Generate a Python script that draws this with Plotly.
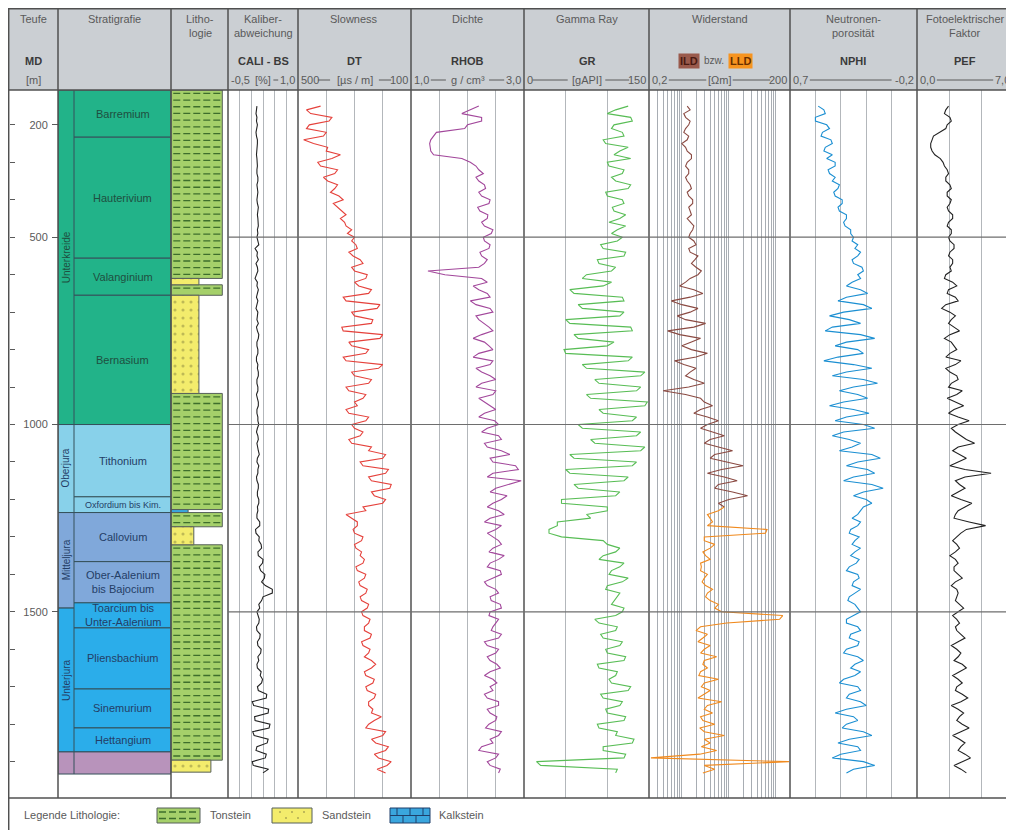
import numpy as np
import plotly.graph_objects as go

# page has an 8px body margin, so the figure fills page pixels 8..1014 x 8..830
OFF = 8
W, H = 1014 - OFF, 830 - OFF
FONT = "Arial, Liberation Sans, sans-serif"

# ---------------- data ----------------
DEPTH = list(range(150, 1931, 10))   # log sample depths [m MD], 179 samples

CALI = [0.12, 0.11, 0.10, 0.12, 0.11, 0.13, 0.12, 0.10, 0.11, 0.13, 0.13, 0.12, 0.12, 0.11, 0.12, 0.13, 0.13, 0.12, 0.12, 0.14,
        0.14, 0.12, 0.13, 0.14, 0.13, 0.12, 0.13, 0.15, 0.14, 0.13, 0.14, 0.15, 0.15, 0.13, 0.14, 0.12, 0.14, 0.16, 0.08, 0.13,
        0.12, 0.15, 0.10, 0.13, 0.14, 0.11, 0.08, 0.13, 0.12, 0.15, 0.13, 0.11, 0.14, 0.12, 0.10, 0.14, 0.13, 0.12, 0.15, 0.11,
        0.13, 0.16, 0.15, 0.12, 0.12, 0.14, 0.14, 0.11, 0.11, 0.14, 0.13, 0.15, 0.15, 0.12, 0.12, 0.14, 0.14, 0.11, 0.13, 0.15,
        0.15, 0.12, 0.12, 0.14, 0.14, 0.16, 0.13, 0.11, 0.14, 0.15, 0.12, 0.13, 0.15, 0.17, 0.13, 0.12, 0.16, 0.14, 0.14, 0.11,
        0.12, 0.15, 0.15, 0.13, 0.13, 0.16, 0.16, 0.13, 0.14, 0.12, 0.12, 0.18, 0.18, 0.09, 0.10, 0.17, 0.16, 0.21, 0.22, 0.14,
        0.15, 0.25, 0.24, 0.17, 0.20, 0.29, 0.28, 0.22, 0.30, 0.45, 0.45, 0.25, 0.22, 0.16, 0.18, 0.12, 0.14, 0.17, 0.16, 0.11,
        0.12, 0.19, 0.18, 0.13, 0.14, 0.21, 0.20, 0.14, 0.16, 0.12, 0.13, 0.21, 0.19, 0.24, 0.22, 0.13, 0.15, 0.33, 0.32, 0.02,
        0.05, 0.37, 0.36, 0.07, 0.08, 0.40, 0.38, 0.03, 0.06, 0.36, 0.34, 0.12, 0.10, 0.32, 0.30, 0.02, 0.04, 0.37, 0.25]

DT = [420, 470, 455, 380, 390, 460, 470, 400, 410, 480, 445, 395, 400, 350, 380, 430, 420, 360, 370, 410,
      395, 360, 370, 385, 355, 340, 375, 360, 345, 330, 350, 335, 330, 310, 325, 300, 310, 295, 290, 320,
      305, 280, 270, 310, 300, 255, 260, 300, 285, 240, 250, 340, 330, 210, 220, 310, 300, 235, 240, 345,
      340, 200, 210, 320, 310, 250, 260, 340, 330, 200, 215, 310, 300, 240, 250, 330, 320, 260, 270, 300,
      290, 330, 320, 250, 260, 310, 300, 270, 280, 320, 310, 240, 250, 190, 200, 280, 270, 180, 190, 250,
      240, 170, 175, 240, 230, 190, 200, 270, 260, 330, 310, 290, 290, 305, 300, 270, 275, 300, 295, 275,
      280, 265, 270, 295, 290, 260, 265, 285, 280, 255, 260, 280, 275, 250, 255, 275, 270, 245, 250, 265,
      265, 240, 245, 275, 270, 245, 250, 265, 240, 225, 240, 265, 260, 230, 235, 260, 255, 225, 230, 250,
      250, 235, 240, 205, 230, 250, 260, 190, 200, 240, 225, 180, 190, 230, 215, 170, 185, 220, 190]

RHOB = [2.20, 2.05, 1.90, 2.25, 2.25, 2.00, 1.95, 1.45, 1.40, 1.35, 1.33, 1.34, 1.35, 1.40, 1.90, 2.05, 2.15, 2.20, 2.28, 2.15,
        2.20, 2.30, 2.32, 2.20, 2.25, 2.40, 2.38, 2.18, 2.22, 2.36, 2.35, 2.25, 2.30, 2.45, 2.42, 2.28, 2.30, 2.40, 2.38, 2.22,
        2.25, 2.35, 2.30, 2.20, 1.30, 1.60, 2.25, 2.35, 2.10, 2.20, 2.35, 2.40, 2.05, 2.15, 2.40, 2.45, 2.15, 2.20, 2.30, 2.38,
        2.45, 2.25, 2.10, 2.30, 2.38, 2.45, 2.20, 2.10, 2.45, 2.40, 2.15, 2.25, 2.40, 2.50, 2.25, 2.15, 2.50, 2.45, 2.20, 2.30,
        2.42, 2.50, 2.30, 2.20, 2.48, 2.55, 2.35, 2.25, 2.55, 2.60, 2.30, 2.35, 2.60, 2.75, 2.40, 2.45, 2.85, 2.90, 2.45, 2.35,
        2.95, 2.70, 2.50, 2.40, 2.70, 2.60, 2.45, 2.35, 2.55, 2.65, 2.40, 2.30, 2.60, 2.50, 2.35, 2.45, 2.55, 2.60, 2.45, 2.38,
        2.65, 2.55, 2.40, 2.35, 2.58, 2.60, 2.45, 2.30, 2.35, 2.50, 2.55, 2.40, 2.42, 2.58, 2.60, 2.40, 2.38, 2.55, 2.50, 2.45,
        2.42, 2.60, 2.55, 2.30, 2.35, 2.55, 2.50, 2.35, 2.40, 2.52, 2.58, 2.40, 2.30, 2.45, 2.52, 2.40, 2.45, 2.30, 2.35, 2.55,
        2.55, 2.35, 2.40, 2.52, 2.50, 2.38, 2.32, 2.60, 2.55, 2.40, 2.45, 2.25, 2.20, 2.55, 2.50, 2.35, 2.40, 2.58, 2.55]

GR = [125, 110, 100, 128, 130, 108, 105, 118, 120, 95, 98, 125, 115, 108, 128, 100, 102, 120, 118, 105,
      110, 128, 125, 98, 100, 118, 120, 106, 108, 122, 115, 102, 122, 112, 105, 118, 112, 92, 95, 122,
      120, 88, 90, 110, 105, 75, 70, 105, 95, 55, 60, 118, 120, 65, 70, 120, 115, 50, 55, 128,
      130, 60, 65, 108, 100, 48, 50, 130, 125, 70, 75, 145, 140, 85, 90, 140, 135, 75, 80, 148,
      145, 90, 95, 135, 130, 65, 70, 140, 135, 80, 85, 145, 140, 55, 60, 135, 130, 50, 55, 125,
      120, 60, 65, 115, 110, 45, 45, 100, 100, 75, 80, 40, 40, 30, 30, 45, 95, 100, 115, 110,
      95, 90, 120, 115, 105, 102, 125, 118, 100, 98, 115, 112, 108, 105, 120, 118, 110, 85, 90, 112,
      110, 92, 95, 118, 115, 98, 100, 122, 120, 88, 90, 112, 110, 102, 105, 128, 125, 92, 95, 118,
      115, 98, 100, 122, 120, 88, 90, 112, 110, 132, 130, 95, 95, 122, 120, 15, 20, 112, 110]

ILD_DEPTH = DEPTH[:108]          # 150 .. 1220 m
ILD = [1.3, 1.5, 1.1, 1.2, 1.5, 1.4, 1.2, 1.1, 1.4, 1.3, 1.0, 1.2, 1.3, 1.6, 1.6, 1.3, 1.2, 1.4, 1.4, 1.2,
       1.3, 1.5, 1.6, 1.3, 1.4, 1.7, 1.7, 1.4, 1.5, 1.6, 1.3, 1.5, 1.8, 1.7, 1.5, 1.4, 1.8, 2.0, 1.4, 1.5,
       2.2, 1.9, 1.6, 2.0, 2.6, 2.2, 1.5, 1.2, 0.9, 1.8, 2.8, 1.5, 0.6, 1.0, 2.2, 1.5, 0.8, 1.2, 3.2, 1.8,
       0.5, 0.9, 2.5, 1.6, 1.0, 1.6, 3.5, 2.0, 0.7, 1.1, 2.0, 1.5, 1.2, 1.8, 3.0, 1.4, 0.4, 1.2, 2.5, 3.0,
       4.5, 2.5, 1.8, 3.5, 6.0, 3.5, 2.5, 4.5, 8.0, 4.0, 3.0, 6.0, 12, 5.0, 4.0, 9.0, 20, 7.0, 3.5, 8.0,
       15, 6.0, 5.0, 12, 25, 10, 6.0, 8.0]

LLD_DEPTH = DEPTH[107:]          # 1220 .. 1930 m
LLD = [8.0, 6.0, 3.5, 4.0, 4.5, 3.5, 65, 60, 3.0,
       3.0, 5.0, 4.0, 2.8, 3.2, 4.0, 2.5, 2.6, 2.5, 3.5, 3.0, 2.7, 3.2, 4.5, 3.5, 3.2, 4.0, 6.0, 5.0, 7.0,
       140, 120, 9.0,
       2.5, 2.0, 3.5, 2.8, 2.2, 4.0, 3.0, 2.5, 5.5, 3.0, 2.8, 3.5, 2.5, 2.3, 6.0, 3.0, 2.6, 4.0, 3.0, 2.2,
       7.0, 3.5, 3.0, 4.5, 2.5, 2.8, 5.0, 2.4, 3.0, 8.0, 3.0, 4.0, 2.6, 5.5, 2.4, 0.22, 190, 3.0, 5.0, 2.8]

NPHI = [0.50, 0.46, 0.45, 0.52, 0.52, 0.44, 0.42, 0.47, 0.48, 0.41, 0.40, 0.45, 0.46, 0.40, 0.44, 0.38, 0.38, 0.43, 0.42, 0.38,
        0.40, 0.35, 0.36, 0.39, 0.38, 0.33, 0.33, 0.36, 0.35, 0.30, 0.30, 0.32, 0.31, 0.27, 0.27, 0.25, 0.26, 0.22, 0.24, 0.20,
        0.22, 0.26, 0.25, 0.19, 0.18, 0.22, 0.20, 0.26, 0.30, 0.20, 0.15, 0.30, 0.36, 0.18, 0.12, 0.32, 0.42, 0.28, 0.20, 0.40,
        0.45, 0.20, 0.10, 0.30, 0.38, 0.22, 0.18, 0.36, 0.46, 0.25, 0.12, 0.30, 0.40, 0.18, 0.08, 0.25, 0.35, 0.22, 0.15, 0.32,
        0.42, 0.25, 0.14, 0.30, 0.38, 0.18, 0.10, 0.32, 0.40, 0.28, 0.20, 0.26, 0.35, 0.12, 0.06, 0.22, 0.30, 0.15, 0.10, 0.25,
        0.32, 0.12, 0.04, 0.18, 0.25, 0.16, 0.12, 0.18, 0.20, 0.22, 0.26, 0.20, 0.22, 0.27, 0.28, 0.21, 0.24, 0.26, 0.20, 0.24,
        0.27, 0.21, 0.23, 0.28, 0.30, 0.22, 0.21, 0.25, 0.26, 0.20, 0.24, 0.28, 0.29, 0.24, 0.22, 0.20, 0.25, 0.30, 0.30, 0.22,
        0.20, 0.27, 0.28, 0.21, 0.22, 0.30, 0.32, 0.22, 0.18, 0.24, 0.27, 0.20, 0.24, 0.32, 0.35, 0.22, 0.20, 0.28, 0.30, 0.20,
        0.16, 0.30, 0.38, 0.25, 0.22, 0.30, 0.33, 0.18, 0.12, 0.28, 0.36, 0.22, 0.20, 0.34, 0.40, 0.18, 0.10, 0.25, 0.30]

PEF = [2.3, 2.1, 2.0, 2.4, 2.5, 2.2, 2.1, 1.6, 1.2, 1.1, 1.0, 1.0, 1.1, 1.3, 1.7, 1.9, 2.0, 2.2, 2.3, 2.1,
       2.1, 2.4, 2.5, 2.2, 2.2, 2.5, 2.4, 2.2, 2.3, 2.6, 2.6, 2.3, 2.2, 2.5, 2.5, 2.3, 2.4, 2.7, 2.7, 2.4,
       2.3, 2.6, 2.6, 2.4, 2.5, 2.1, 2.0, 2.6, 2.9, 2.3, 2.2, 2.8, 3.0, 2.1, 1.8, 2.4, 2.8, 2.5, 2.3, 2.7,
       3.1, 2.4, 2.0, 2.5, 2.7, 2.9, 2.4, 2.1, 3.2, 2.8, 2.1, 2.4, 2.9, 3.0, 2.5, 2.3, 3.3, 2.9, 2.2, 2.8,
       3.4, 2.7, 2.3, 3.0, 3.8, 3.0, 2.5, 2.8, 3.2, 3.6, 4.2, 3.0, 2.6, 3.1, 3.6, 3.0, 2.4, 3.5, 5.4, 3.5,
       2.8, 3.1, 3.5, 3.0, 2.5, 3.2, 4.0, 3.5, 3.0, 2.8, 2.7, 3.8, 5.0, 3.6, 3.2, 2.9, 2.6, 2.9, 3.1, 2.8,
       2.4, 2.8, 3.0, 2.7, 2.7, 3.0, 3.3, 2.8, 2.5, 2.9, 3.0, 2.9, 2.8, 3.1, 3.4, 3.0, 2.6, 2.9, 3.1, 2.8,
       2.9, 3.2, 3.5, 3.0, 2.5, 2.9, 3.2, 3.0, 2.7, 3.3, 3.6, 3.1, 2.6, 3.0, 3.3, 2.9, 2.8, 3.3, 3.7, 3.2,
       2.5, 3.0, 3.4, 3.1, 2.9, 3.3, 3.8, 3.2, 2.6, 3.1, 3.5, 3.2, 3.0, 3.5, 3.9, 3.3, 2.7, 3.2, 3.6]

STAGE_NAMES = ["Barremium", "Hauterivium", "Valanginium", "Bernasium", "Tithonium", "Oxfordium bis Kim.",
               "Callovium", "Ober-Aalenium<br>bis Bajocium", "Toarcium bis<br>Unter-Aalenium", "Pliensbachium",
               "Sinemurium", "Hettangium", ""]
STAGE_TOP = [107, 233, 556, 655, 1000, 1193, 1235, 1366, 1476, 1543, 1706, 1810, 1874]
STAGE_BASE = [233, 556, 655, 1000, 1193, 1235, 1366, 1476, 1543, 1706, 1810, 1874, 1933]
STAGE_COLOR = ["#22b389", "#22b389", "#22b389", "#22b389", "#88d1ea", "#88d1ea", "#80a8da", "#80a8da",
               "#2badea", "#2badea", "#2badea", "#2badea", "#b893bb"]

SERIES_NAMES = ["Unterkreide", "Oberjura", "Mitteljura", "Unterjura", ""]
SERIES_TOP = [107, 1000, 1235, 1490, 1874]
SERIES_BASE = [1000, 1235, 1490, 1874, 1933]
SERIES_COLOR = ["#22b389", "#88d1ea", "#80a8da", "#2badea", "#b893bb"]

LITHO_TYPE = ["Ton", "Sand", "Ton", "Sand", "Ton", "Kalk", "Ton", "Sand", "Ton", "Sand"]
LITHO_TOP = [107, 610, 627, 655, 917, 1227, 1235, 1273, 1321, 1896]
LITHO_BASE = [610, 627, 655, 917, 1227, 1235, 1273, 1321, 1896, 1928]
LITHO_WIDTH = [0.9, 0.49, 0.9, 0.49, 0.9, 0.3, 0.9, 0.4, 0.9, 0.7]

DEPTH_LABELS = [200, 500, 1000, 1500]
GRID_DEPTHS = [500, 1000, 1500]

# ---------------- layout helpers ----------------
def px(x):
    return (x - OFF) / W


def py(y):
    return 1 - (y - OFF) / H


Y_TOP_PX, Y_BOT_PX = 90, 798
D_TOP, D_BOT = 107, 1997
YDOM = [py(Y_BOT_PX), py(Y_TOP_PX)]
COL_X = [8.7, 58, 171, 228, 298, 411, 524, 649, 790, 917, 1013]
LINE_C = "#505050"
TXT_C = "#5a5a5a"
GRID_C = "#b3b7bb"

fig = go.Figure()

# ---- stratigraphy: series column (x2) and stages column (x3) ----
fig.add_trace(go.Bar(
    orientation="h", xaxis="x2", yaxis="y",
    y=[(a + b) / 2 for a, b in zip(SERIES_TOP, SERIES_BASE)],
    width=[b - a for a, b in zip(SERIES_TOP, SERIES_BASE)],
    x=[1] * len(SERIES_TOP), base=0,
    marker=dict(color=SERIES_COLOR, line=dict(color="#35505a", width=1)),
    hoverinfo="skip", showlegend=False))
fig.add_trace(go.Bar(
    orientation="h", xaxis="x3", yaxis="y",
    y=[(a + b) / 2 for a, b in zip(STAGE_TOP, STAGE_BASE)],
    width=[b - a for a, b in zip(STAGE_TOP, STAGE_BASE)],
    x=[1] * len(STAGE_TOP), base=0,
    marker=dict(color=STAGE_COLOR, line=dict(color="#35505a", width=1)),
    hoverinfo="skip", showlegend=False))

# ---- lithology (x4) ----
LITHO_STYLE = {
    "Ton": dict(color="#a5d06a", pattern=None),
    "Sand": dict(color="#f3ec6c", pattern=dict(shape=".", fgcolor="#8a8540", bgcolor="#f3ec6c", size=8, solidity=0.12)),
    "Kalk": dict(color="#3aa6de", pattern=None),
}
for kind in ["Ton", "Sand", "Kalk"]:
    idx = [i for i, t in enumerate(LITHO_TYPE) if t == kind]
    st = LITHO_STYLE[kind]
    mk = dict(color=st["color"], line=dict(color="#56605a", width=1))
    if st["pattern"]:
        mk["pattern"] = st["pattern"]
    fig.add_trace(go.Bar(
        orientation="h", xaxis="x4", yaxis="y",
        y=[(LITHO_TOP[i] + LITHO_BASE[i]) / 2 for i in idx],
        width=[LITHO_BASE[i] - LITHO_TOP[i] for i in idx],
        x=[LITHO_WIDTH[i] for i in idx], base=0,
        marker=mk, hoverinfo="skip", showlegend=False))

# clay dash pattern overlay
row_step = 17.9
dx, dy = [], []
for i, t in enumerate(LITHO_TYPE):
    if t != "Ton":
        continue
    d = LITHO_TOP[i] + row_step / 2
    while d < LITHO_BASE[i] - 2:
        dx += [0.04, LITHO_WIDTH[i] - 0.03, None]
        dy += [d, d, None]
        d += row_step
fig.add_trace(go.Scatter(x=dx, y=dy, xaxis="x4", yaxis="y", mode="lines",
                         line=dict(color="#3e6e2c", width=1.3, dash="7px,3px"),
                         hoverinfo="skip", showlegend=False))

# ---- log curves ----
def curve(x, y, ax, color, width=1.1):
    fig.add_trace(go.Scatter(x=x, y=y, xaxis=ax, yaxis="y", mode="lines",
                             line=dict(color=color, width=width), hoverinfo="skip", showlegend=False))


curve(CALI, DEPTH, "x5", "#222222")
curve(DT, DEPTH, "x6", "#e5413b")
curve(RHOB, DEPTH, "x7", "#a2479b")
curve(GR, DEPTH, "x8", "#58bd55")
curve(ILD, ILD_DEPTH, "x9", "#8a4a42")
curve(LLD, LLD_DEPTH, "x9", "#f08a1e")
curve(NPHI, DEPTH, "x10", "#1b8fd2")
curve(PEF, DEPTH, "x11", "#222222")

# dummy trace for the minor-tick axis
fig.add_trace(go.Scatter(x=[None], y=[None], xaxis="x", yaxis="y2", showlegend=False, hoverinfo="skip"))

# ---- axes ----
def xax(x0, x1, rng, dtick=None, tick0=None, log=False, grid=True, gridcolor=GRID_C):
    a = dict(domain=[px(x0), px(x1)], anchor="y", showticklabels=False, ticks="",
             showline=False, zeroline=False, showgrid=grid, gridcolor=gridcolor, gridwidth=1,
             fixedrange=True)
    if log:
        a.update(type="log", range=[np.log10(rng[0]), np.log10(rng[1])], dtick="D1")
    else:
        a.update(range=rng)
        if dtick is not None:
            a.update(dtick=dtick, tick0=tick0)
    return a


layout_axes = dict(
    xaxis=xax(9, 58, [0, 1], grid=False),
    xaxis2=xax(58, 74, [0, 1], grid=False),
    xaxis3=xax(74, 171, [0, 1], grid=False),
    xaxis4=xax(171, 228, [0, 1], grid=False),
    xaxis5=xax(228, 298, [-0.5, 1.0], 0.25, -0.5),
    xaxis6=xax(298, 411, [500, 100], 100, 100),
    xaxis7=xax(411, 524, [1.0, 3.0], 0.5, 1.0),
    xaxis8=xax(524, 649, [0, 150], 50, 0),
    xaxis9=xax(649, 790, [0.2, 200], log=True, gridcolor="#a8adb3"),
    xaxis10=xax(790, 917, [0.7, -0.2], 0.18, -0.2),
    xaxis11=xax(917, 1013, [0, 7], 7 / 3, 0),
    yaxis=dict(domain=YDOM, range=[D_BOT, D_TOP], anchor="free", position=px(58), side="left",
               tickvals=DEPTH_LABELS, ticks="outside", ticklen=6, tickcolor=TXT_C, tickwidth=1,
               ticklabelstandoff=2,
               tickfont=dict(family=FONT, size=11, color=TXT_C), showgrid=False, zeroline=False,
               showline=False, fixedrange=True),
    yaxis2=dict(domain=YDOM, range=[D_BOT, D_TOP], anchor="free", position=px(9), side="right",
                overlaying="y", dtick=100, tick0=0, ticks="outside", ticklen=5, tickcolor=TXT_C,
                showticklabels=False, showgrid=False, zeroline=False, showline=False, fixedrange=True),
)

shapes = []
annotations = []

# header background
shapes.append(dict(type="rect", xref="paper", yref="paper", x0=px(8), x1=px(1013), y0=py(90), y1=py(8),
                   fillcolor="#cbcfd3", line=dict(width=0), layer="below"))
# horizontal frame lines
for yy in [8.7, 90, Y_BOT_PX]:
    shapes.append(dict(type="line", xref="paper", yref="paper", x0=px(8), x1=px(1013), y0=py(yy), y1=py(yy),
                       line=dict(color=LINE_C, width=1.5), layer="above"))
# vertical column lines
for xx in COL_X:
    bottom = 830 if xx in (8.7, 1013) else Y_BOT_PX
    shapes.append(dict(type="line", xref="paper", yref="paper", x0=px(xx), x1=px(xx), y0=py(bottom), y1=py(8),
                       line=dict(color=LINE_C, width=1.5), layer="above"))
# depth grid lines across the log tracks
for d in GRID_DEPTHS:
    shapes.append(dict(type="line", xref="paper", yref="y", x0=px(228), x1=px(1013), y0=d, y1=d,
                       line=dict(color="#6e6e6e", width=1.2), layer="above"))


def ann(x, y, text, size=11, color=TXT_C, xanchor="center", **kw):
    a = dict(x=px(x), y=py(y), xref="paper", yref="paper", text=text, showarrow=False,
             font=dict(family=FONT, size=size, color=color), xanchor=xanchor, yanchor="middle")
    a.update(kw)
    annotations.append(a)


# header texts
HEAD = [
    (33, ["Teufe"], "MD", "[m]"),
    (114, ["Stratigrafie"], None, None),
    (200, ["Litho-", "logie"], None, None),
    (263, ["Kaliber-", "abweichung"], "CALI - BS", None),
    (354, ["Slowness"], "DT", None),
    (467, ["Dichte"], "RHOB", None),
    (587, ["Gamma Ray"], "GR", None),
    (720, ["Widerstand"], None, None),
    (853, ["Neutronen-", "porosität"], "NPHI", None),
    (965, ["Fotoelektrischer", "Faktor"], "PEF", None),
]
for x, rows, bold, unit in HEAD:
    for k, r in enumerate(rows):
        ann(x, 19 + 14 * k, r)
    if bold:
        ann(x, 61, "<b>" + bold + "</b>", color="#3a3a3a")
    if unit:
        ann(x, 80, unit)

# ILD bzw. LLD
ann(689, 61, "<b>ILD</b>", color="#4a1a12", bgcolor="#9a5a4c", borderpad=1)
ann(714, 61, "bzw.", size=10)
ann(740, 61, "<b>LLD</b>", color="#6a3000", bgcolor="#f7941f", borderpad=1)

# scale row
SCALES = [
    (228, 298, "-0,5", "[%]", "1,0"),
    (298, 411, "500", "[µs / m]", "100"),
    (411, 524, "1,0", "g / cm³", "3,0"),
    (524, 649, "0", "[gAPI]", "150"),
    (649, 790, "0,2", "[Ωm]", "200"),
    (790, 917, "0,7", "", "-0,2"),
    (917, 1013, "0,0", "", "7,0"),
]


def tw(s):
    return 5.6 * len(s)


for x0, x1, lft, unit, rgt in SCALES:
    ann(x0 + 1, 80, lft, xanchor="left")
    ann(x1 - 1, 80, rgt, xanchor="right")
    la = x0 + 1 + tw(lft) + 2
    rb = x1 - 1 - tw(rgt) - 2
    if unit:
        cx = (x0 + x1) / 2
        ann(cx, 80, unit)
        segs = [(la, cx - tw(unit) / 2 - 2), (cx + tw(unit) / 2 + 2, rb)]
    else:
        segs = [(la, rb)]
    for a, b in segs:
        if b > a:
            shapes.append(dict(type="line", xref="paper", yref="paper", x0=px(a), x1=px(b), y0=py(80), y1=py(80),
                               line=dict(color=TXT_C, width=1)))

# stage and series names
for name, a, b, c in zip(STAGE_NAMES, STAGE_TOP, STAGE_BASE, STAGE_COLOR):
    if not name:
        continue
    col = "#1f4f40" if c == "#22b389" else "#243e66"
    annotations.append(dict(x=px(122.5), y=(a + b) / 2, xref="paper", yref="y", text=name, showarrow=False,
                            font=dict(family=FONT, size=9 if "Kim" in name else 11, color=col),
                            xanchor="center", yanchor="middle"))
for name, a, b, c in zip(SERIES_NAMES, SERIES_TOP, SERIES_BASE, SERIES_COLOR):
    if not name:
        continue
    col = "#1f4f40" if c == "#22b389" else "#243e66"
    annotations.append(dict(x=px(66), y=(a + b) / 2, xref="paper", yref="y", text=name, showarrow=False,
                            textangle=-90, font=dict(family=FONT, size=10, color=col),
                            xanchor="center", yanchor="middle"))

# legend row
ann(22, 815, "Legende Lithologie:", xanchor="left")
# Tonstein swatch
shapes.append(dict(type="rect", xref="paper", yref="paper", x0=px(157), x1=px(200), y0=py(823), y1=py(808),
                   fillcolor="#a5d06a", line=dict(color="#56605a", width=1)))
for yy in [812, 818.5]:
    shapes.append(dict(type="line", xref="paper", yref="paper", x0=px(159), x1=px(198), y0=py(yy), y1=py(yy),
                       line=dict(color="#3e6e2c", width=1.3, dash="7px,3px")))
ann(208, 815, "Tonstein", xanchor="left")
# Sandstein swatch
shapes.append(dict(type="rect", xref="paper", yref="paper", x0=px(272), x1=px(312), y0=py(823), y1=py(808),
                   fillcolor="#f3ec6c", line=dict(color="#56605a", width=1)))
for (sx, sy) in [(280, 812), (292, 812), (304, 812), (286, 818), (298, 818)]:
    shapes.append(dict(type="circle", xref="paper", yref="paper", x0=px(sx - 0.8), x1=px(sx + 0.8),
                       y0=py(sy + 0.8), y1=py(sy - 0.8), fillcolor="#7a7540", line=dict(width=0)))
ann(320, 815, "Sandstein", xanchor="left")
# Kalkstein swatch
shapes.append(dict(type="rect", xref="paper", yref="paper", x0=px(390), x1=px(430), y0=py(823), y1=py(808),
                   fillcolor="#3aa6de", line=dict(color="#1f3f6a", width=1)))
shapes.append(dict(type="line", xref="paper", yref="paper", x0=px(390), x1=px(430), y0=py(815.5), y1=py(815.5),
                   line=dict(color="#1f3f6a", width=1)))
for bx in [397, 410, 423]:
    shapes.append(dict(type="line", xref="paper", yref="paper", x0=px(bx), x1=px(bx), y0=py(815.5), y1=py(808),
                       line=dict(color="#1f3f6a", width=1)))
for bx in [403, 416]:
    shapes.append(dict(type="line", xref="paper", yref="paper", x0=px(bx), x1=px(bx), y0=py(823), y1=py(815.5),
                       line=dict(color="#1f3f6a", width=1)))
ann(437, 815, "Kalkstein", xanchor="left")

fig.update_layout(
    width=W, height=H, margin=dict(l=0, r=0, t=0, b=0),
    paper_bgcolor="white", plot_bgcolor="white",
    barmode="overlay", showlegend=False,
    shapes=shapes, annotations=annotations,
    font=dict(family=FONT, size=11, color=TXT_C),
    **layout_axes,
)

fig.write_html("out.html")
